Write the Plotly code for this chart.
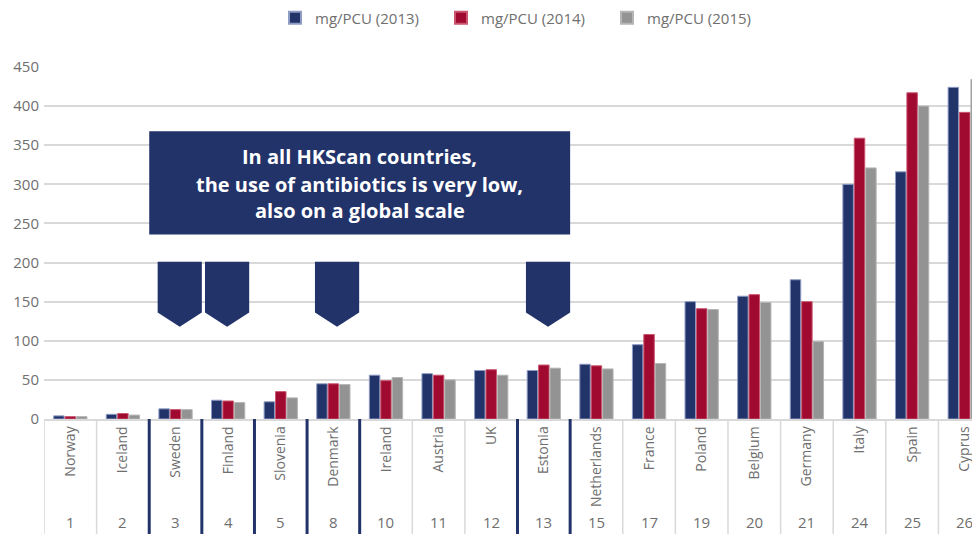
import plotly.graph_objects as go

countries = ["Norway", "Iceland", "Sweden", "Finland", "Slovenia", "Denmark", "Ireland",
             "Austria", "UK", "Estonia", "Netherlands", "France", "Poland", "Belgium",
             "Germany", "Italy", "Spain", "Cyprus"]
ranks = ["1", "2", "3", "4", "5", "8", "10", "11", "12", "13", "15", "17", "19", "20",
         "21", "24", "25", "26"]
v2013 = [4, 6, 13, 24, 22, 45, 56, 58, 62, 62, 70, 95, 150, 157, 178, 300, 316, 424]
v2014 = [3, 7, 12, 23, 35, 45, 49, 56, 63, 69, 68, 108, 141, 159, 150, 359, 417, 392]
v2015 = [3, 5, 12, 21, 27, 44, 53, 50, 56, 65, 64, 71, 140, 149, 99, 321, 400, 434]
series_names = ["mg/PCU (2013)", "mg/PCU (2014)", "mg/PCU (2015)"]
hkscan = ["Sweden", "Finland", "Denmark", "Estonia"]
chevron_offsets = [0.08, -0.02, 0.07, 0.08]
box_lines = ["In all HKScan countries,", "the use of antibiotics is very low,",
             "also on a global scale"]

NAVY = "#22336a"
RED = "#a00a30"
GRAY = "#939393"
TXT = "#6f6f6f"
FONT = "Open Sans"

fig = go.Figure()
for name, vals, col, lc in zip(series_names, [v2013, v2014, v2015],
                               [NAVY, RED, GRAY], ["#8e9cc4", "#c9566f", "#b5b5b5"]):
    fig.add_trace(go.Bar(x=countries, y=vals, name=name,
                         marker=dict(color=col, line=dict(color=lc, width=1))))

shapes = []
n = len(countries)
navy_bounds = set()
for c in hkscan:
    i = countries.index(c)
    navy_bounds.add(i - 0.5)
    navy_bounds.add(i + 0.5)
for k in range(n + 1):
    b = k - 0.5
    if b in navy_bounds:
        continue
    shapes.append(dict(type="line", xref="x", yref="paper", x0=b, x1=b, y0=0, y1=-0.35,
                       line=dict(color="#d9d9d9", width=1.5), layer="above"))
for b in sorted(navy_bounds):
    shapes.append(dict(type="line", xref="x", yref="paper", x0=b, x1=b, y0=0, y1=-0.35,
                       line=dict(color=NAVY, width=3), layer="above"))

# annotation box
i0 = countries.index(hkscan[0]) - 0.5
i1 = countries.index(hkscan[-1]) + 0.5
shapes.append(dict(type="rect", xref="x", yref="y", x0=i0, x1=i1, y0=236, y1=368,
                   fillcolor=NAVY, line=dict(width=0), layer="above"))
# chevrons
for c, off in zip(hkscan, chevron_offsets):
    cx = countries.index(c) + off
    hw = 0.42
    path = (f"M {cx-hw},201 L {cx+hw},201 L {cx+hw},136 L {cx},118 L {cx-hw},136 Z")
    shapes.append(dict(type="path", xref="x", yref="y", path=path,
                       fillcolor=NAVY, line=dict(width=0), layer="above"))

annotations = []
for line, yv in zip(box_lines, [335, 300, 266]):
    annotations.append(dict(x=(i0 + i1) / 2, y=yv, xref="x", yref="y", text=line,
                            showarrow=False, yanchor="middle",
                            font=dict(family=FONT, size=20, color="white", weight="bold")))
for c, r in zip(countries, ranks):
    annotations.append(dict(x=c, y=-0.293, xref="x", yref="paper", text=r, showarrow=False,
                            font=dict(family=FONT, size=15, color=TXT), yanchor="middle"))

# page body has an 8px margin: figure is sized/offset to compensate
fig.update_layout(
    width=972, height=526,
    margin=dict(l=36, r=0, t=59, b=115),
    plot_bgcolor="white", paper_bgcolor="white",
    barmode="group", bargap=0.35, bargroupgap=0.08,
    font=dict(family=FONT, size=15, color=TXT),
    legend=dict(orientation="h", xref="container", yref="container",
                x=516 / 972, y=1 - 10 / 526,
                xanchor="center", yanchor="middle", font=dict(size=15, color=TXT),
                entrywidth=121, itemsizing="constant"),
    shapes=shapes, annotations=annotations,
)
fig.update_xaxes(range=[-0.5, 17.29], tickangle=-90, ticks="", showgrid=False,
                 showline=True, linecolor="#d9d9d9", linewidth=1.5,
                 tickfont=dict(family=FONT, size=14, color=TXT))
fig.update_yaxes(range=[0, 450], dtick=50, showgrid=True, gridcolor="#d9d9d9", gridwidth=1.5,
                 zeroline=False, showline=False, ticks="", ticklabelstandoff=4,
                 tickfont=dict(family=FONT, size=15, color=TXT))

fig.write_html("out.html")
